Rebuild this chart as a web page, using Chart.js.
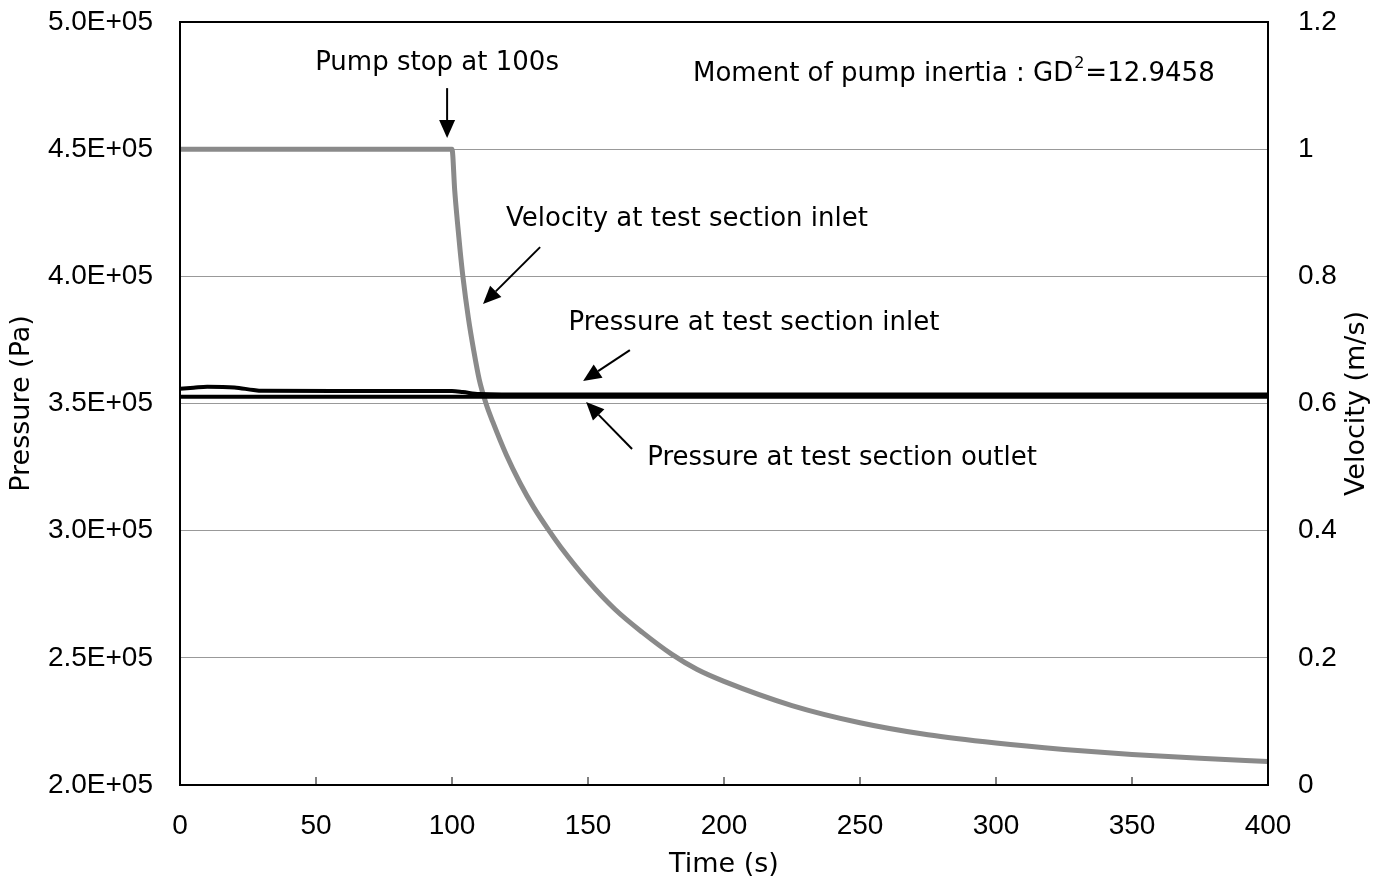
<!DOCTYPE html>
<html lang="en">
<head>
    <meta charset="UTF-8">
    <title>Pump stop transient</title>
    <style>
        body {
            margin: 0;
            padding: 0;
            background: #fff;
        }
        canvas {
            display: block;
        }
    </style>
</head>
<body>
    <canvas id="myChart" width="1383" height="882"></canvas>

    <script src="https://cdn.jsdelivr.net/npm/chart.js"></script>
    <script>
        // velocity at test section inlet (m/s)
        var velTime = [0, 50, 100, 101, 102, 103, 104, 106, 108, 110, 112.5, 115, 120, 125, 130, 136, 140, 150, 160, 170, 181, 190, 200, 225, 250, 275, 300, 325, 350, 375, 400];
        var velocity = [1.0, 1.0, 1.0, 0.935, 0.885, 0.84, 0.80, 0.735, 0.683, 0.638, 0.60, 0.571, 0.519, 0.475, 0.437, 0.398, 0.374, 0.321, 0.276, 0.240, 0.205, 0.182, 0.163, 0.125, 0.098, 0.079, 0.066, 0.056, 0.048, 0.042, 0.037];

        // pressures (Pa)
        var presTime = [0, 5, 10, 20, 27, 30, 60, 100, 104, 110, 130, 200, 300, 400];
        var presInlet = [355800, 356200, 356600, 356300, 355300, 355000, 354900, 354900, 354500, 353700, 353500, 353500, 353500, 353500];
        var presOutlet = [352700, 352700, 352700, 352700, 352700, 352700, 352700, 352700, 352700, 352700, 352700, 352700, 352700, 352700];

        var xTicks = [0, 50, 100, 150, 200, 250, 300, 350, 400];

        var tickFont = "'Liberation Sans Narrow', 'Arial Narrow', 'Liberation Sans', sans-serif";
        var textFont = "'DejaVu Sans', Verdana, sans-serif";

        function toPoints(xs, ys) {
            return xs.map(function (x, i) { return { x: x, y: ys[i] }; });
        }

        // text labels and arrows, placed in data coordinates (time, pressure)
        var notes = [
            { text: 'Pump stop at 100s', t: 94.5, p: 483900 },
            { text: 'Velocity at test section inlet', t: 186.4, p: 422500 },
            { text: 'Pressure at test section inlet', t: 211, p: 381600 },
            { text: 'Pressure at test section outlet', t: 243.4, p: 328600 }
        ];
        var gdNote = { t: 188.6, p: 479500 };
        var arrows = [
            [98.2, 474000, 98.2, 454400],
            [132.4, 411500, 111.4, 389100],
            [165.4, 371000, 148.2, 358800],
            [166.2, 332100, 149.3, 350600]
        ];

        var annotate = {
            id: 'annotate',
            afterDraw: function (chart) {
                var ctx = chart.ctx;
                var xs = chart.scales.x, ys = chart.scales.y;
                var a = chart.chartArea;
                ctx.save();
                // plot frame
                ctx.strokeStyle = '#000';
                ctx.lineWidth = 2;
                ctx.strokeRect(a.left, a.top, a.right - a.left, a.bottom - a.top);
                // x ticks inside
                ctx.lineWidth = 1;
                xTicks.forEach(function (t) {
                    var px = xs.getPixelForValue(t);
                    ctx.beginPath();
                    ctx.moveTo(px, a.bottom);
                    ctx.lineTo(px, a.bottom - 8);
                    ctx.stroke();
                });

                ctx.fillStyle = '#000';
                ctx.font = '26px ' + textFont;
                ctx.textAlign = 'center';
                ctx.textBaseline = 'middle';
                notes.forEach(function (n) {
                    ctx.fillText(n.text, xs.getPixelForValue(n.t), ys.getPixelForValue(n.p));
                });

                // right axis title, reading bottom to top like the left one
                ctx.save();
                ctx.translate(chart.width - 26, (a.top + a.bottom) / 2);
                ctx.rotate(-Math.PI / 2);
                ctx.font = '27px ' + textFont;
                ctx.fillText('Velocity (m/s)', 0, 0);
                ctx.restore();

                // GD^2 note with superscript
                var mx = xs.getPixelForValue(gdNote.t), my = ys.getPixelForValue(gdNote.p);
                ctx.textAlign = 'left';
                var s1 = 'Moment of pump inertia : GD', s2 = '2', s3 = '=12.9458';
                var w1 = ctx.measureText(s1).width;
                ctx.fillText(s1, mx, my);
                ctx.font = '16px ' + textFont;
                ctx.fillText(s2, mx + w1 + 1, my - 10);
                var w2 = ctx.measureText(s2).width;
                ctx.font = '26px ' + textFont;
                ctx.fillText(s3, mx + w1 + w2 + 2, my);

                // arrows
                ctx.lineWidth = 2;
                arrows.forEach(function (ar) {
                    var x0 = xs.getPixelForValue(ar[0]), y0 = ys.getPixelForValue(ar[1]);
                    var x1 = xs.getPixelForValue(ar[2]), y1 = ys.getPixelForValue(ar[3]);
                    var ang = Math.atan2(y1 - y0, x1 - x0);
                    var hl = 18, hw = 8;
                    var bx = x1 - hl * Math.cos(ang), by = y1 - hl * Math.sin(ang);
                    ctx.beginPath();
                    ctx.moveTo(x0, y0);
                    ctx.lineTo(bx, by);
                    ctx.stroke();
                    ctx.beginPath();
                    ctx.moveTo(x1, y1);
                    ctx.lineTo(bx + hw * Math.sin(ang), by - hw * Math.cos(ang));
                    ctx.lineTo(bx - hw * Math.sin(ang), by + hw * Math.cos(ang));
                    ctx.closePath();
                    ctx.fill();
                });
                ctx.restore();
            }
        };

        // fixed axis box sizes, no extra label padding above/below the plot
        function fixVertical(w) {
            return function (s) {
                s.width = w;
                s.paddingTop = 0;
                s.paddingBottom = 0;
            };
        }

        var ctx = document.getElementById('myChart').getContext('2d');
        var myChart = new Chart(ctx, {
            type: 'line',
            data: {
                datasets: [
                    {
                        label: 'Pressure at test section inlet',
                        data: toPoints(presTime, presInlet),
                        yAxisID: 'y',
                        borderColor: '#000',
                        borderWidth: 4,
                        pointRadius: 0,
                        cubicInterpolationMode: 'monotone'
                    },
                    {
                        label: 'Pressure at test section outlet',
                        data: toPoints(presTime, presOutlet),
                        yAxisID: 'y',
                        borderColor: '#000',
                        borderWidth: 4,
                        pointRadius: 0,
                        cubicInterpolationMode: 'monotone'
                    },
                    {
                        label: 'Velocity at test section inlet',
                        data: toPoints(velTime, velocity),
                        yAxisID: 'y1',
                        borderColor: '#8a8a8a',
                        borderWidth: 5,
                        pointRadius: 0,
                        cubicInterpolationMode: 'monotone'
                    }
                ]
            },
            options: {
                responsive: false,
                animation: false,
                layout: { padding: { top: 22, left: 0, right: 0, bottom: 0 } },
                plugins: {
                    legend: { display: false },
                    tooltip: { enabled: false }
                },
                scales: {
                    x: {
                        type: 'linear',
                        min: 0,
                        max: 400,
                        afterFit: function (s) {
                            s.height = 97;
                            s.paddingLeft = 0;
                            s.paddingRight = 0;
                        },
                        afterBuildTicks: function (s) { s.ticks = xTicks.map(function (v) { return { value: v }; }); },
                        grid: { display: false },
                        border: { display: false },
                        ticks: {
                            color: '#000',
                            padding: 16,
                            maxRotation: 0,
                            font: { family: tickFont, size: 28 }
                        },
                        title: {
                            display: true,
                            text: 'Time (s)',
                            color: '#000',
                            padding: { top: 0, bottom: 1 },
                            font: { family: textFont, size: 27 }
                        }
                    },
                    y: {
                        position: 'left',
                        min: 200000,
                        max: 500000,
                        afterFit: fixVertical(180),
                        grid: { color: '#999', lineWidth: 1, drawTicks: false },
                        border: { display: false },
                        ticks: {
                            stepSize: 50000,
                            color: '#000',
                            padding: 27,
                            font: { family: tickFont, size: 28 },
                            callback: function (v) { return (v / 100000).toFixed(1) + 'E+05'; }
                        },
                        title: {
                            display: true,
                            text: 'Pressure (Pa)',
                            color: '#000',
                            padding: { top: 6, bottom: 0 },
                            font: { family: textFont, size: 27 }
                        }
                    },
                    y1: {
                        position: 'right',
                        min: 0,
                        max: 1.2,
                        afterFit: fixVertical(115),
                        grid: { display: false },
                        border: { display: false },
                        ticks: {
                            stepSize: 0.2,
                            color: '#000',
                            padding: 22,
                            font: { family: tickFont, size: 28 },
                            callback: function (v) { return String(Number(v.toFixed(1))); }
                        },
                        title: { display: false }
                    }
                }
            },
            plugins: [annotate]
        });
    </script>
</body>
</html>
